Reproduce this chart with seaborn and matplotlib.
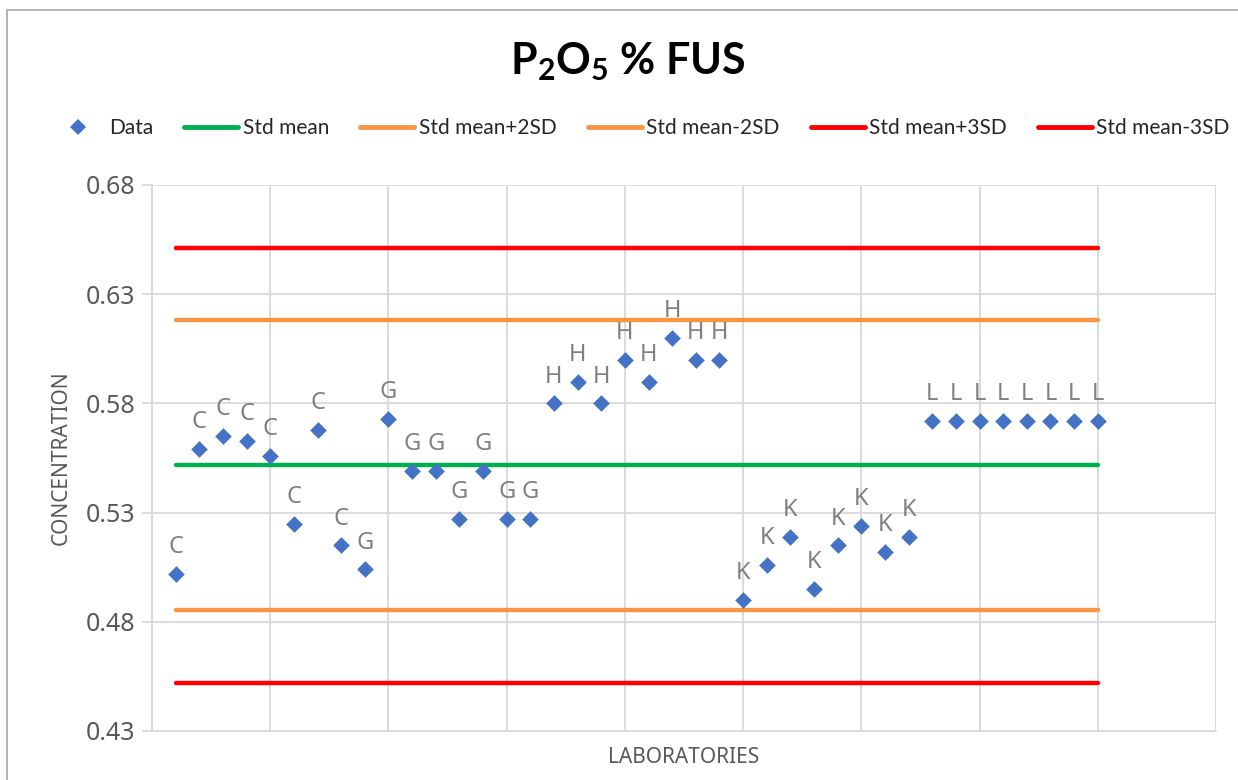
import numpy as np
import pandas as pd
import matplotlib
matplotlib.use("Agg")
import matplotlib.pyplot as plt
from matplotlib.lines import Line2D
from matplotlib.patches import Rectangle
import seaborn as sns

# ---- data -------------------------------------------------------------
lab_groups = ["C"] * 8 + ["G"] * 8 + ["H"] * 8 + ["K"] * 8 + ["L"] * 8
concentration = [
    0.502, 0.559, 0.565, 0.563, 0.556, 0.525, 0.568, 0.515,
    0.504, 0.573, 0.549, 0.549, 0.527, 0.549, 0.527, 0.527,
    0.580, 0.590, 0.580, 0.600, 0.590, 0.610, 0.600, 0.600,
    0.490, 0.506, 0.519, 0.495, 0.515, 0.524, 0.512, 0.519,
    0.572, 0.572, 0.572, 0.572, 0.572, 0.572, 0.572, 0.572,
]
control_names = ["Std mean", "Std mean+2SD", "Std mean-2SD", "Std mean+3SD", "Std mean-3SD"]
control_levels = [0.5516, 0.6180, 0.4852, 0.6512, 0.4520]
control_colors = ["#00B050", "#F79646", "#F79646", "#FF0000", "#FF0000"]
y_ticks = [0.43, 0.48, 0.53, 0.58, 0.63, 0.68]

# ---- styling ----------------------------------------------------------
sns.set_theme(style="white")
plt.rcParams["font.family"] = ["Noto Sans", "DejaVu Sans"]
plt.rcParams["mathtext.default"] = "regular"

GREY_TEXT = "#595959"
GRID = "#D9D9D9"
BLUE = "#4472C4"
NARROW = ["Lato", "DejaVu Sans"]

fig = plt.figure(figsize=(12.38, 7.80), dpi=100)
ax = fig.add_axes([152 / 1238, 1 - 731 / 780, (1216 - 152) / 1238, (731 - 185) / 780])

lab_pos = np.arange(1, len(concentration) + 1)
df = pd.DataFrame({"lab": lab_pos, "value": concentration, "group": lab_groups})

# control lines spanning all laboratories
lines_df = pd.DataFrame({
    "lab": np.tile(lab_pos, len(control_names)),
    "level": np.repeat(control_levels, len(lab_pos)),
    "series": np.repeat(control_names, len(lab_pos)),
})
sns.lineplot(data=lines_df, x="lab", y="level", hue="series",
             palette=dict(zip(control_names, control_colors)),
             linewidth=3.2, ax=ax, legend=False, zorder=2)

sns.scatterplot(data=df, x="lab", y="value", marker="D", s=72,
                color=BLUE, edgecolor=BLUE, linewidth=0, ax=ax, zorder=3,
                legend=False)

for x, y, g in zip(df["lab"], df["value"], df["group"]):
    ax.annotate(g, (x, y), xytext=(0, 15), textcoords="offset points",
                ha="center", va="baseline", fontsize=17, color="#808080",
                zorder=4)

# axes
ax.set_xlim(0, 45)
ax.set_ylim(0.43, 0.68)
ax.set_xticks(np.arange(0, 46, 5))
ax.set_xticklabels([])
ax.set_yticks(y_ticks)
ax.set_yticklabels([f"{t:.2f}" for t in y_ticks])
ax.grid(True, color=GRID, linewidth=1.3)
ax.set_axisbelow(True)
for sp in ax.spines.values():
    sp.set_visible(False)
for side in ("left", "bottom"):
    ax.spines[side].set_visible(True)
    ax.spines[side].set_color(GRID)
    ax.spines[side].set_linewidth(1.3)
ax.tick_params(axis="y", length=7, width=1.3, color=GRID, labelsize=18,
               labelcolor=GREY_TEXT, pad=5, left=True)
ax.tick_params(axis="x", length=0)

ax.set_xlabel("LABORATORIES", fontsize=15, color=GREY_TEXT, labelpad=8)
ax.set_ylabel("CONCENTRATION", fontsize=15, color=GREY_TEXT, labelpad=10)

# title
fig.text(0.507, 1 - 62 / 780, r"P$_2$O$_5$ % FUS", ha="center", va="center",
         fontsize=31, fontweight="bold", color="black", family=NARROW)

# legend
handles = [Line2D([], [], marker="D", linestyle="none", markersize=8,
                  color=BLUE, markeredgewidth=0)]
handles += [Line2D([], [], color=c, linewidth=3.5) for c in control_colors]
labels = ["Data"] + control_names
fig.legend(handles, labels, loc="center", bbox_to_anchor=(0.517, 1 - 128 / 780),
           ncol=6, frameon=False, handlelength=2.6,
           handletextpad=0.2, columnspacing=1.5,
           prop={"family": NARROW, "size": 15})

# outer chart frame
fig.patches.append(Rectangle((7 / 1238, -0.05), 1.05, 1 - 10 / 780 + 0.05,
                             transform=fig.transFigure, fill=False,
                             edgecolor="#A6A6A6", linewidth=1.2))

fig.savefig("out.png", dpi=100)
